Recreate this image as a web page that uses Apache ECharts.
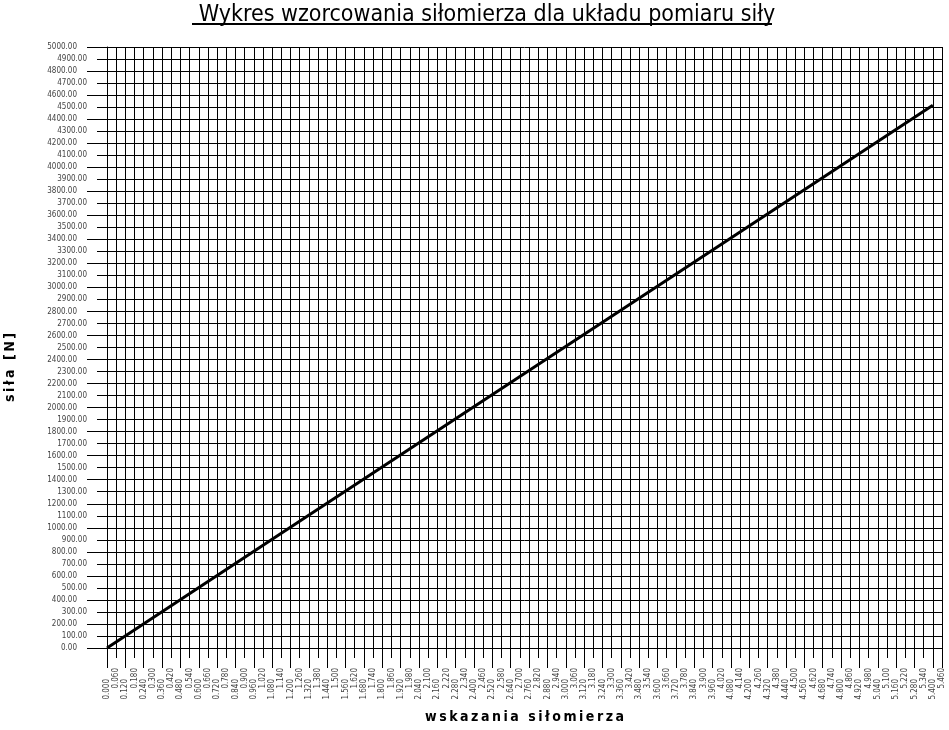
<!DOCTYPE html>
<html>
<head>
<meta charset="utf-8">
<script src="https://cdn.jsdelivr.net/npm/echarts@6/dist/echarts.min.js"></script>
<style>
    html, body { margin: 0; padding: 0; background: #fff; }
    #chart { width: 949px; height: 730px; }
</style>
</head>
<body>
<div id="chart"></div>
<script>
// wskazania siłomierza (odczyt) i odpowiadająca siła [N]
var readings = [0.000, 1.080, 2.700, 4.020, 5.400];
var forces = [0, 905, 2258, 3362, 4515];

var titleText = 'Wykres wzorcowania siłomierza dla układu pomiaru siły';
var xName = 'wskazania siłomierza';
var yName = 'siła [N]';

var xStep = 0.06;
var xMax = 5.46;
var yStep = 100;
var yMax = 5000;

var narrow = '"Liberation Sans Narrow", "DejaVu Sans Condensed", "Liberation Sans", sans-serif';

// rozstrzelenie liter jak w oryginale (cienka spacja miedzy znakami)
function spread(s) {
    return s.split('').join('\u2009');
}

var lineData = [];
for (var i = 0; i < readings.length; i++) {
    lineData.push([readings[i], forces[i]]);
}

function xLabel(v) {
    var k = Math.round(v / xStep);
    var s = v.toFixed(3);
    return k % 2 === 0 ? '{e|' + s + '}' : '{o|' + s + '}';
}

function yLabel(v) {
    var k = Math.round(v / yStep);
    var s = v.toFixed(2);
    return k % 2 === 0 ? '{e|' + s + '}' : '{o|' + s + '}';
}

var labelFont = {fontSize: 8, fontFamily: narrow, color: '#444'};

var myChart = echarts.init(document.getElementById('chart'));
myChart.setOption({
    animation: false,
    backgroundColor: '#fff',
    title: {
        text: titleText,
        left: 482,
        textAlign: 'center',
        top: -1,
        textStyle: {
            fontSize: 23,
            fontWeight: 'normal',
            fontFamily: narrow,
            color: '#000'
        }
    },
    graphic: [{
        type: 'line',
        shape: {x1: 192, y1: 24, x2: 772, y2: 24},
        style: {stroke: '#000', lineWidth: 2}
    }],
    grid: {
        left: 107,
        right: 7,
        top: 47,
        bottom: 82,
        outerBoundsMode: 'none'
    },
    xAxis: [{
        type: 'value',
        min: 0,
        max: xMax,
        interval: xStep,
        name: spread(xName),
        nameLocation: 'middle',
        nameGap: 62,
        nameTextStyle: {fontSize: 14, fontWeight: 'bold', fontFamily: narrow, color: '#000'},
        axisLine: {lineStyle: {color: '#000', width: 1}},
        axisTick: {length: 10, lineStyle: {color: '#000', width: 1}},
        splitLine: {show: true, lineStyle: {color: '#000', width: 1}},
        axisLabel: {
            rotate: 90,
            margin: 20,
            fontSize: 8,
            fontFamily: narrow,
            color: '#444',
            formatter: xLabel,
            rich: {
                e: {fontSize: 8, fontFamily: narrow, color: '#444', padding: [0, 11, 0, 0]},
                o: labelFont
            }
        }
    }, {
        type: 'value',
        min: 0,
        max: xMax,
        interval: xStep * 2,
        position: 'bottom',
        axisLine: {show: false},
        axisTick: {length: 20, lineStyle: {color: '#000', width: 1}},
        splitLine: {show: false},
        axisLabel: {show: false}
    }],
    yAxis: [{
        type: 'value',
        min: 0,
        max: yMax,
        interval: yStep,
        name: spread(yName),
        nameLocation: 'middle',
        nameGap: 90,
        nameTextStyle: {
            fontSize: 14,
            fontWeight: 'bold',
            fontFamily: narrow,
            color: '#000',
            padding: [0, 40, 0, 0]
        },
        axisLine: {show: true, lineStyle: {color: '#000', width: 1}},
        axisTick: {show: true, length: 10, lineStyle: {color: '#000', width: 1}},
        splitLine: {show: true, lineStyle: {color: '#000', width: 1}},
        axisLabel: {
            margin: 20,
            fontSize: 8,
            fontFamily: narrow,
            color: '#444',
            formatter: yLabel,
            rich: {
                e: {fontSize: 8, fontFamily: narrow, color: '#444', padding: [0, 10, 0, 0]},
                o: labelFont
            }
        }
    }, {
        type: 'value',
        min: 0,
        max: yMax,
        interval: yStep * 2,
        position: 'left',
        axisLine: {show: false},
        axisTick: {show: true, length: 20, lineStyle: {color: '#000', width: 1}},
        splitLine: {show: false},
        axisLabel: {show: false}
    }],
    series: [{
        type: 'line',
        xAxisIndex: 0,
        yAxisIndex: 0,
        data: lineData,
        symbol: 'none',
        lineStyle: {color: '#000', width: 3}
    }]
});
</script>
</body>
</html>
